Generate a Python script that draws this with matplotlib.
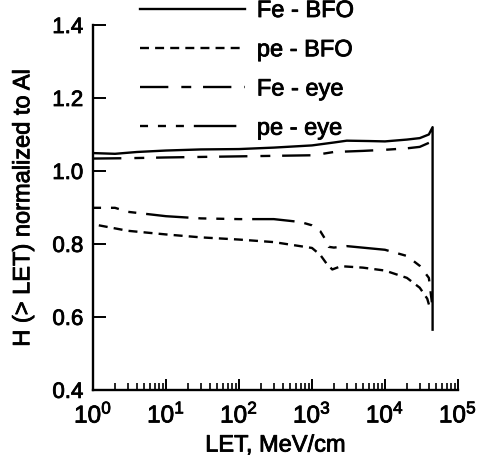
import numpy as np
import matplotlib
matplotlib.use("Agg")
import matplotlib.pyplot as plt
import matplotlib.patheffects as pe
from matplotlib.ticker import LogLocator, NullFormatter

plt.rcParams['font.family'] = ['Liberation Sans', 'DejaVu Sans']
plt.rcParams['mathtext.fontset'] = 'custom'
plt.rcParams['mathtext.rm'] = 'Liberation Sans'
plt.rcParams['mathtext.it'] = 'Liberation Sans'

# LET values (MeV/cm) and normalized H(>LET)
fe_bfo_x = [1, 2, 4, 10, 30, 100, 300, 1000, 2000, 3000, 6000, 10000, 20000, 30000, 40000, 45000, 45000]
fe_bfo_y = [1.049, 1.047, 1.052, 1.056, 1.059, 1.060, 1.064, 1.070, 1.078, 1.083, 1.082, 1.081, 1.086, 1.090, 1.100, 1.120, 0.565]

pe_bfo_x = [1.2, 3, 10, 30, 100, 300, 1000, 1300, 1600, 1900, 2500, 5000, 10000, 20000, 30000, 38000, 42000]
pe_bfo_y = [0.851, 0.836, 0.826, 0.818, 0.812, 0.805, 0.789, 0.770, 0.745, 0.730, 0.739, 0.735, 0.727, 0.707, 0.680, 0.650, 0.620]

fe_eye_x = [1, 3, 10, 100, 1000, 1500, 2000, 5000, 10000, 20000, 30000, 40000]
fe_eye_y = [1.034, 1.035, 1.037, 1.040, 1.043, 1.048, 1.052, 1.055, 1.058, 1.062, 1.066, 1.077]

pe_eye_x = [1, 2, 3, 10, 30, 100, 300, 700, 1000, 1300, 1500, 1700, 2000, 3000, 10000, 20000, 30000, 40000, 44000]
pe_eye_y = [0.899, 0.899, 0.888, 0.876, 0.870, 0.868, 0.868, 0.860, 0.851, 0.835, 0.815, 0.792, 0.790, 0.794, 0.784, 0.767, 0.740, 0.707, 0.640]

y_ticks = [0.4, 0.6, 0.8, 1.0, 1.2, 1.4]
y_tick_labels = ['0.4', '0.6', '0.8', '1.0', '1.2', '1.4']
x_ticks = [1, 10, 100, 1000, 1e4, 1e5]
x_tick_labels = [r'$10^{0}$', r'$10^{1}$', r'$10^{2}$', r'$10^{3}$', r'$10^{4}$', r'$10^{5}$']

bold = [pe.withStroke(linewidth=0.6, foreground='black')]

fig = plt.figure(figsize=(4.82, 4.72), dpi=100)
ax = fig.add_axes([0.193, 0.174, 0.757, 0.773])

lw = 1.7
h1, = ax.plot(fe_bfo_x, fe_bfo_y, color='black', lw=lw, ls='-', label='Fe - BFO')
h2, = ax.plot(pe_bfo_x, pe_bfo_y, color='black', lw=lw, ls=(0, (3.8, 2.6)), label='pe - BFO')
h3, = ax.plot(fe_eye_x, fe_eye_y, color='black', lw=lw, ls=(0, (12, 5.5, 4.2, 5)), label='Fe - eye')
h4, = ax.plot(pe_eye_x, pe_eye_y, color='black', lw=lw, ls=(0, (3.4, 4.2, 3.4, 4.2, 3.4, 4.2, 18, 4.2)), label='pe - eye')

ax.set_xscale('log')
ax.set_xlim(1, 1e5)
ax.set_ylim(0.4, 1.4)
ax.set_yticks(y_ticks)
ax.set_yticklabels(y_tick_labels)
ax.set_xticks(x_ticks)
ax.set_xticklabels(x_tick_labels)
ax.xaxis.set_minor_locator(LogLocator(base=10, subs=[2, 3, 4, 5, 6, 7, 8, 9], numticks=100))
ax.xaxis.set_minor_formatter(NullFormatter())

for s in ['top', 'right']:
    ax.spines[s].set_visible(False)
for s in ['left', 'bottom']:
    ax.spines[s].set_linewidth(1.7)

ax.tick_params(axis='both', which='both', direction='in', colors='black')
ax.tick_params(axis='y', which='major', length=9, width=1.4, labelsize=16, pad=7)
ax.tick_params(axis='x', which='major', length=8, width=1.4, labelsize=17.5, pad=9)
ax.tick_params(axis='x', which='minor', length=5, width=1.2)
ax.tick_params(axis='y', which='minor', left=False)

ax.set_xlabel('LET, MeV/cm', fontsize=17, labelpad=5)
ax.set_ylabel('H (> LET) normalized to Al', fontsize=17, labelpad=13)

leg = fig.legend(handles=[h1, h2, h3, h4], loc='upper left',
                 bbox_to_anchor=(140 / 482, 1 - 0 / 472), frameon=False,
                 fontsize=17, handlelength=4.45, handletextpad=0.5, labelspacing=0.73,
                 borderaxespad=0, borderpad=0)

for t in ax.get_xticklabels() + ax.get_yticklabels() + leg.get_texts():
    t.set_path_effects(bold)
ax.xaxis.label.set_path_effects(bold)
ax.yaxis.label.set_path_effects(bold)

fig.savefig('out.png', dpi=100)
